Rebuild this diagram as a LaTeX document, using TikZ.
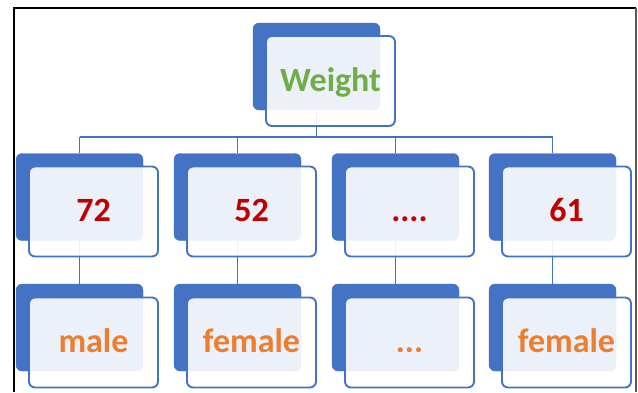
\documentclass[tikz,border=0pt]{standalone}
\usepackage{fontspec}
\setmainfont{Carlito}
\definecolor{accblue}{HTML}{4472C4}
\definecolor{accgreen}{HTML}{70AD47}
\definecolor{accred}{HTML}{C00000}
\definecolor{accorange}{HTML}{ED7D31}
\begin{document}
\begin{tikzpicture}[x=1pt,y=-1pt,
  back/.style={fill=accblue, draw=accblue, rounded corners=6pt,
    minimum width=127pt, minimum height=87pt, inner sep=0pt},
  front/.style={fill=white, fill opacity=0.9, text opacity=1, draw=accblue,
    line width=1.9pt, rounded corners=6pt, minimum width=129pt,
    minimum height=90pt, inner sep=0pt,
    font=\fontsize{34}{40}\selectfont\bfseries,
    text height=20pt, text depth=0pt},
  conn/.style={draw=accblue, line width=1.8pt},
  frameline/.style={line width=1.2pt}]
\useasboundingbox (0,0) rectangle (638,392);
\fill[white] (0,0) rectangle (638,392);

% outer frame
\draw[frameline, black] (14,392) -- (14,8) -- (636,8);
\draw[frameline, black!65] (636,8) -- (636,392);

% back plates
\node[back] (b0) at (316.5,66.5) {};
\node[back] (b1) at (79.5,197) {};
\node[back] (b2) at (237.5,197) {};
\node[back] (b3) at (395.5,197) {};
\node[back] (b4) at (552.5,197) {};
\node[back] (c1) at (79.5,327.5) {};
\node[back] (c2) at (237.5,327.5) {};
\node[back] (c3) at (395.5,327.5) {};
\node[back] (c4) at (552.5,327.5) {};

% connectors
\coordinate (bus) at (0,137);
\draw[conn] (b0.south) -- (b0.south |- bus);
\draw[conn] (b1.north |- bus) -- (b4.north |- bus);
\foreach \n in {1,2,3,4}{
  \draw[conn] (b\n.north |- bus) -- (b\n.north);
  \draw[conn] (b\n.south) -- (c\n.north);
}

% front cards with labels
\node[front, text=accgreen] (f0) at (330.5,81) {Weight};
\node[front, text=accred] (f1) at (93.5,211.5) {72};
\node[front, text=accred] (f2) at (251.5,211.5) {52};
\node[front, text=accred] (f3) at (409.5,211.5) {....};
\node[front, text=accred] (f4) at (566.5,211.5) {61};
\node[front, text=accorange] (g1) at (93.5,342.5) {male};
\node[front, text=accorange] (g2) at (251.5,342.5) {female};
\node[front, text=accorange] (g3) at (409.5,342.5) {...};
\node[front, text=accorange] (g4) at (566.5,342.5) {female};
\end{tikzpicture}
\end{document}
